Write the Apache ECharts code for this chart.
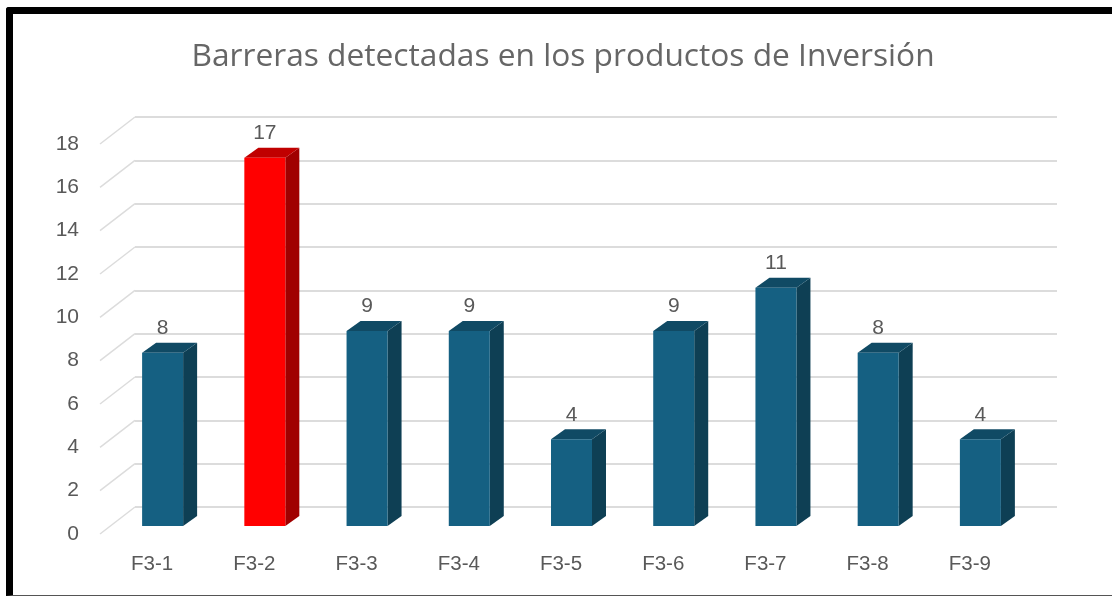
<!DOCTYPE html>
<html>
<head>
    <meta charset="utf-8">
    <title>Barreras</title>
    <script src="https://cdn.jsdelivr.net/npm/echarts@6/dist/echarts.min.js"></script>
    <style>
        html, body { margin: 0; padding: 0; background: #fff; overflow: hidden; }
        #marco { position: absolute; left: 6px; top: 7px; width: 1106px; height: 581px;
                 border-left: 7px solid #000; border-top: 7px solid #000; border-bottom: 1px solid #555;
                 border-top-left-radius: 3px; }
        #chart { position: absolute; left: 0; top: 0; width: 1112px; height: 596px; }
    </style>
</head>
<body>
    <div id="marco"></div>
    <div id="chart"></div>
    <script type="text/javascript">
        var titulo = 'Barreras detectadas en los productos de Inversión';
        var categorias = ['F3-1', 'F3-2', 'F3-3', 'F3-4', 'F3-5', 'F3-6', 'F3-7', 'F3-8', 'F3-9'];
        var valores = [8, 17, 9, 9, 4, 9, 11, 8, 4];
        var marcasY = [0, 2, 4, 6, 8, 10, 12, 14, 16, 18];
        var destacada = 'F3-2';

        // falso 3D: la pared del fondo y el plano frontal son dos grids desplazados
        var fondoX = 35, fondoY = -27;
        var caraX = 11.5, caraY = -8;
        var profX = 14, profY = -10;
        var anchoBarra = 41;
        var colorTexto = '#595959';
        var colorRejilla = '#dcdcdc';

        function renderPared(params, api) {
            var y = api.coord([0, api.value(1)])[1];
            var x = params.coordSys.x;
            return {
                type: 'line',
                shape: { x1: x, y1: y, x2: x + fondoX, y2: y + fondoY },
                style: { stroke: colorRejilla, lineWidth: 1.5 }
            };
        }

        function renderBarra(params, api) {
            var esRoja = categorias[params.dataIndex] === destacada;
            var arriba = api.coord([api.value(0), api.value(1)]);
            var abajo = api.coord([api.value(0), 0]);
            var x0 = arriba[0] + caraX - anchoBarra / 2;
            var x1 = x0 + anchoBarra;
            var yT = arriba[1] + caraY;
            var yB = abajo[1] + caraY;
            return {
                type: 'group',
                children: [{
                    type: 'polygon',
                    shape: { points: [[x1, yT], [x1 + profX, yT + profY], [x1 + profX, yB + profY], [x1, yB]] },
                    style: { fill: esRoja ? '#a00000' : '#0e3f54' }
                }, {
                    type: 'polygon',
                    shape: { points: [[x0, yT], [x0 + profX, yT + profY], [x1 + profX, yT + profY], [x1, yT]] },
                    style: { fill: esRoja ? '#c00000' : '#104a64' }
                }, {
                    type: 'rect',
                    shape: { x: x0, y: yT, width: anchoBarra, height: yB - yT },
                    style: { fill: esRoja ? '#ff0000' : '#156082' }
                }, {
                    type: 'text',
                    style: {
                        x: x0 + anchoBarra / 2, y: yT - 24.5,
                        text: String(api.value(1)),
                        fill: colorTexto,
                        font: '21px "Liberation Sans"',
                        align: 'center', verticalAlign: 'middle'
                    }
                }]
            };
        }

        var myChart = echarts.init(document.getElementById('chart'));
        var option = {
            animation: false,
            title: {
                text: titulo,
                left: 558, top: 36,
                textAlign: 'center',
                textStyle: { fontFamily: 'Open Sans', fontSize: 31.7, fontWeight: 'normal', color: '#666666' }
            },
            grid: [
                { left: 100 + fondoX, right: 55, top: 144 + fondoY, height: 390 },
                { left: 100, right: 92, top: 144, height: 390 }
            ],
            xAxis: [
                { gridIndex: 0, type: 'category', data: categorias, show: false },
                {
                    gridIndex: 1, type: 'category', data: categorias,
                    axisLine: { show: false }, axisTick: { show: false },
                    axisLabel: { color: colorTexto, fontFamily: 'Liberation Sans', fontSize: 20.5, margin: 20, padding: [0, 0, 0, 2] }
                }
            ],
            yAxis: [
                {
                    gridIndex: 0, type: 'value', min: marcasY[0], max: marcasY[marcasY.length - 1], interval: 2,
                    axisLine: { show: false }, axisTick: { show: false }, axisLabel: { show: false },
                    splitLine: { lineStyle: { color: colorRejilla, width: 2 } }
                },
                {
                    gridIndex: 1, type: 'value', min: marcasY[0], max: marcasY[marcasY.length - 1], interval: 2,
                    axisLine: { show: false }, axisTick: { show: false }, splitLine: { show: false },
                    axisLabel: { color: colorTexto, fontFamily: 'Liberation Sans', fontSize: 21, margin: 21, padding: [8, 0, 0, 0] }
                }
            ],
            series: [
                {
                    type: 'custom', xAxisIndex: 1, yAxisIndex: 1, silent: true, clip: false, z: 1,
                    renderItem: renderPared,
                    data: marcasY.map(function (v) { return [0, v]; })
                },
                {
                    type: 'custom', xAxisIndex: 1, yAxisIndex: 1, clip: false, z: 3,
                    renderItem: renderBarra,
                    encode: { x: 0, y: 1 },
                    data: categorias.map(function (c, i) { return [c, valores[i]]; })
                }
            ]
        };
        myChart.setOption(option);
    </script>
</body>
</html>
